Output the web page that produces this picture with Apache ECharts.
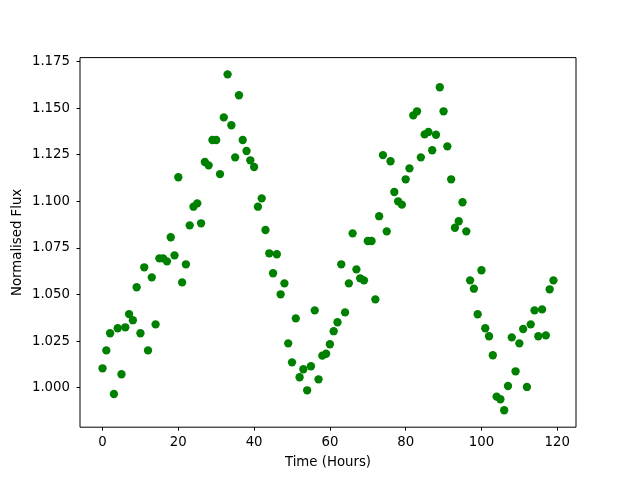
<!DOCTYPE html>
<html>
<head>
<meta charset="utf-8">
<script src="https://cdn.jsdelivr.net/npm/echarts@6/dist/echarts.min.js"></script>
<style>
html, body { margin: 0; padding: 0; background: #fff; }
#chart { width: 640px; height: 480px; }
</style>
</head>
<body>
<div id="chart"></div>
<script>
// hours 0..119, one reading per hour
var hours = [];
for (var h = 0; h < 120; h++) { hours.push(h); }

var flux = [
    1.0104, 1.0200, 1.0292, 0.9966, 1.0319, 1.0072, 1.0324, 1.0395, 1.0362, 1.0539,
    1.0292, 1.0646, 1.0200, 1.0592, 1.0340, 1.0694, 1.0694, 1.0678, 1.0807, 1.0710,
    1.1129, 1.0565, 1.0662, 1.0871, 1.0971, 1.0989, 1.0882, 1.1211, 1.1193, 1.1329,
    1.1329, 1.1146, 1.1450, 1.1681, 1.1408, 1.1236, 1.1569, 1.1329, 1.1270, 1.1220,
    1.1184, 1.0971, 1.1016, 1.0846, 1.0721, 1.0614, 1.0716, 1.0501, 1.0560, 1.0238,
    1.0136, 1.0372, 1.0056, 1.0099, 0.9986, 1.0115, 1.0415, 1.0045, 1.0172, 1.0182,
    1.0233, 1.0303, 1.0351, 1.0662, 1.0404, 1.0560, 1.0828, 1.0635, 1.0587, 1.0576,
    1.0787, 1.0787, 1.0474, 1.0920, 1.1248, 1.0839, 1.1215, 1.1050, 1.1000, 1.0982,
    1.1118, 1.1177, 1.1461, 1.1483, 1.1236, 1.1359, 1.1372, 1.1274, 1.1357, 1.1612,
    1.1483, 1.1295, 1.1118, 1.0858, 1.0893, 1.0995, 1.0839, 1.0576, 1.0531, 1.0394,
    1.0630, 1.0319, 1.0276, 1.0174, 0.9952, 0.9938, 0.9879, 1.0009, 1.0270, 1.0088,
    1.0238, 1.0315, 1.0004, 1.0340, 1.0415, 1.0276, 1.0420, 1.0281, 1.0528, 1.0576
];

var xTicks = [0, 20, 40, 60, 80, 100, 120];
var yTicks = [1.000, 1.025, 1.050, 1.075, 1.100, 1.125, 1.150, 1.175];

var points = [];
for (var i = 0; i < hours.length; i++) {
    points.push([hours[i], flux[i]]);
}

var myChart = echarts.init(document.getElementById('chart'));

var font = 'DejaVu Sans';
var option = {
    backgroundColor: '#fff',
    animation: false,
    grid: {
        left: 80,
        right: 64,
        top: 57.6,
        bottom: 52.8,
        show: true,
        borderColor: '#000',
        borderWidth: 1,
        backgroundColor: '#fff'
    },
    xAxis: {
        type: 'value',
        min: -5.95,
        max: 124.95,
        name: 'Time (Hours)',
        nameLocation: 'middle',
        nameGap: 29,
        nameMoveOverlap: false,
        nameTextStyle: { color: '#000', fontFamily: font, fontSize: 13.3 },
        axisLine: { show: false, onZero: false },
        splitLine: { show: false },
        axisTick: {
            show: true,
            length: 3.5,
            customValues: xTicks,
            lineStyle: { color: '#000', width: 1 }
        },
        axisLabel: {
            customValues: xTicks,
            margin: 8.5,
            color: '#000',
            fontFamily: font,
            fontSize: 13.3
        }
    },
    yAxis: {
        type: 'value',
        min: 0.9788,
        max: 1.1771,
        name: 'Normalised Flux',
        nameLocation: 'middle',
        nameGap: 56,
        nameMoveOverlap: false,
        nameTextStyle: { color: '#000', fontFamily: font, fontSize: 13.3 },
        axisLine: { show: false, onZero: false },
        splitLine: { show: false },
        axisTick: {
            show: true,
            length: 3.5,
            customValues: yTicks,
            lineStyle: { color: '#000', width: 1 }
        },
        axisLabel: {
            customValues: yTicks,
            margin: 10,
            color: '#000',
            fontFamily: font,
            fontSize: 13.3,
            formatter: function (v) { return v.toFixed(3); }
        }
    },
    series: [
        {
            type: 'scatter',
            data: points,
            symbol: 'circle',
            symbolSize: 8.3,
            itemStyle: { color: '#008000', opacity: 1 }
        }
    ]
};

myChart.setOption(option);
</script>
</body>
</html>
